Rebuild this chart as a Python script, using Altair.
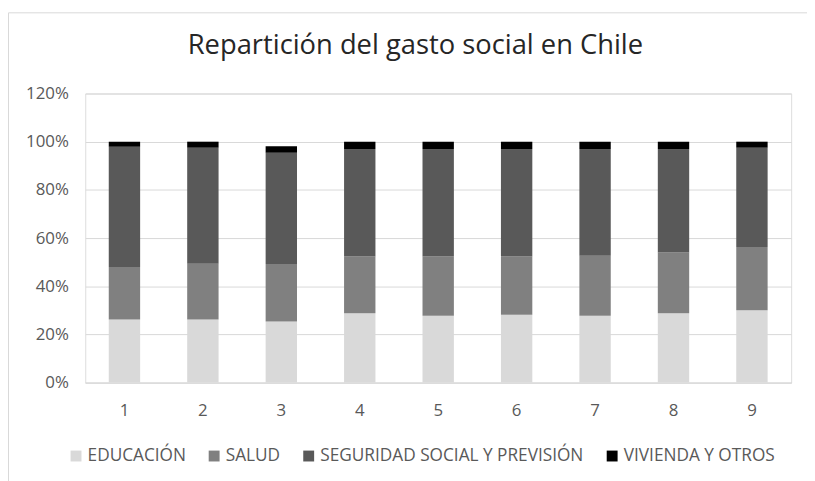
import altair as alt
import pandas as pd

years = ["1", "2", "3", "4", "5", "6", "7", "8", "9"]
educacion = [26.2, 26.2, 25.4, 28.8, 27.8, 28.2, 27.8, 28.8, 30.0]
salud = [21.8, 23.1, 23.8, 23.5, 24.5, 24.1, 24.9, 25.2, 26.3]
seguridad = [49.9, 48.2, 46.2, 44.7, 44.7, 44.7, 44.3, 43.0, 41.2]
vivienda = [2.1, 2.5, 2.7, 3.0, 3.0, 3.0, 3.0, 3.0, 2.5]
series = ["EDUCACIÓN", "SALUD", "SEGURIDAD SOCIAL Y PREVISIÓN", "VIVIENDA Y OTROS"]
colors = ["#d9d9d9", "#808080", "#595959", "#000000"]
y_ticks = [0, 0.2, 0.4, 0.6, 0.8, 1.0, 1.2]
title_text = ["Repartición del gasto social en Chile"]

rows = []
for i, yr in enumerate(years):
    for k, (name, vals) in enumerate(zip(series, [educacion, salud, seguridad, vivienda])):
        rows.append({"periodo": yr, "serie": name, "valor": vals[i] / 100.0, "orden": k})
df = pd.DataFrame(rows)

FONT = "Open Sans"

border = alt.Chart(pd.DataFrame({"k": [0]})).mark_rect(
    fillOpacity=0, stroke="#d9d9d9", strokeWidth=1
).encode(
    x=alt.value(-77.5), x2=alt.value(760), y=alt.value(-81.5), y2=alt.value(520)
)

title = alt.Chart(pd.DataFrame({"titulo": title_text})).mark_text(
    font=FONT, fontSize=27.6, color="#262626", align="center", baseline="alphabetic"
).encode(
    text="titulo:N", x=alt.value(333.5), y=alt.value(-40)
)

bars = alt.Chart(df).mark_bar().encode(
    x=alt.X(
        "periodo:N",
        sort=years,
        scale=alt.Scale(paddingInner=0.6, paddingOuter=0.3),
        axis=alt.Axis(
            title=None, labelAngle=0, ticks=False, grid=False,
            domainColor="#d9d9d9", domainWidth=1,
            labelPadding=20, labelFontSize=17, labelFont=FONT, labelColor="#595959",
        ),
    ),
    y=alt.Y(
        "valor:Q",
        stack="zero",
        scale=alt.Scale(domain=[0, 1.2], nice=False),
        axis=alt.Axis(
            title=None, format=".0%", values=y_ticks, ticks=False, domain=False,
            gridColor="#d9d9d9", gridWidth=1,
            labelPadding=17, labelFontSize=17, labelFont=FONT, labelColor="#595959",
        ),
    ),
    color=alt.Color(
        "serie:N",
        scale=alt.Scale(domain=series, range=colors),
        legend=alt.Legend(
            title=None, orient="none", legendX=-18, legendY=357,
            direction="horizontal", symbolType="square", symbolSize=121,
            symbolStrokeWidth=0, labelFontSize=17.4, labelFont=FONT,
            labelColor="#595959", labelOffset=3, columnPadding=19.5, padding=0,
            labelLimit=0,
        ),
    ),
    order=alt.Order("orden:Q"),
)

chart = alt.layer(border, bars, title).properties(
    width=713,
    height=292,
    autosize=alt.AutoSizeParams(type="none"),
    padding={"left": 78, "top": 84, "right": 16, "bottom": 97},
).configure_view(stroke=None).configure(background="white")

chart.save("out.html", embed_options={"renderer": "svg", "actions": False})
